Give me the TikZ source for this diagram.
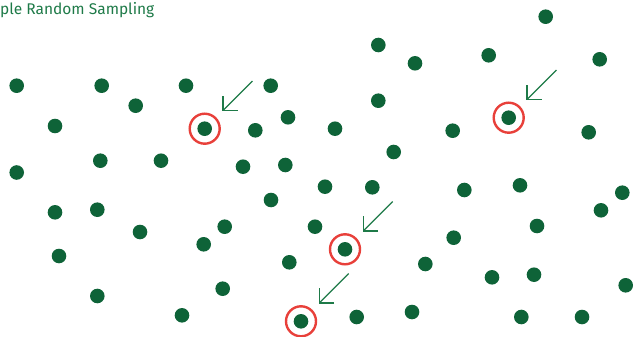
\documentclass[tikz,border=0pt]{standalone}
\usepackage{fontspec}
\setmainfont{Fira Sans}
\usetikzlibrary{arrows.meta,calc}
\definecolor{dotgreen}{RGB}{14,99,56}
\definecolor{titlegreen}{RGB}{30,122,72}
\definecolor{ringred}{RGB}{232,64,58}
\begin{document}
\begin{tikzpicture}[x=1pt,y=-1pt,
  dot/.style={circle,fill=dotgreen,inner sep=0pt,minimum size=14.6pt},
  ring/.style={circle,draw=ringred,line width=2.4pt,inner sep=0pt,minimum size=30pt},
  pointer/.style={draw=titlegreen,line width=1.2pt,-{Straight Barb[length=10.5pt,width=21pt,line join=miter]}}]
\useasboundingbox (0,0) rectangle (635,337);
\node[anchor=base west,inner sep=0pt,text=titlegreen,font=\fontsize{15.5}{18}\selectfont] (title) at (0,15) {ple Random Sampling};
\foreach \x/\y [count=\i] in {
  16.7/85.7, 101.7/85.7, 186/85.7, 270.7/85.7, 135.7/105.7, 55/126,
  255.3/130.3, 288/117.3, 100.3/160.7, 161/160.7, 16.7/172.5, 243/166.7, 285.3/165,
  545.7/16.7, 378.3/45, 415/63.3, 488.7/55.3, 599.7/59.3, 378.3/100.7,
  335/128.7, 452.7/130.7, 588.7/132.3, 393.7/152,
  55/212.3, 97.3/209.7, 140/232, 59/256, 203.7/244.3, 224.7/226.7, 271/200,
  315/226.7, 289.3/262.3, 222.7/288.7, 97.3/296, 182/315.3,
  325/186.7, 372.3/187.3, 464.3/190, 520/185.3, 622.3/192.7, 601/210.3,
  537/226, 453.7/237.7, 425.3/264, 492/277.3, 534/274.7, 625.7/285.3,
  356.7/317, 412/312, 521.3/317, 582/317}
  \node[dot] (d\i) at (\x,\y) {};
\foreach \x/\y [count=\i] in {204.7/128.7, 508.7/117.7, 345/249.3, 301/321.3}{
  \node[dot] (s\i) at (\x,\y) {};
  \node[ring] (r\i) at (s\i) {};
  \coordinate (t\i) at ($(s\i)+(17.7,-17.7)$);
  \coordinate (p\i) at ($(t\i)+(30,-30)$);
  \draw[pointer] (p\i) -- (t\i);
}
\end{tikzpicture}
\end{document}
